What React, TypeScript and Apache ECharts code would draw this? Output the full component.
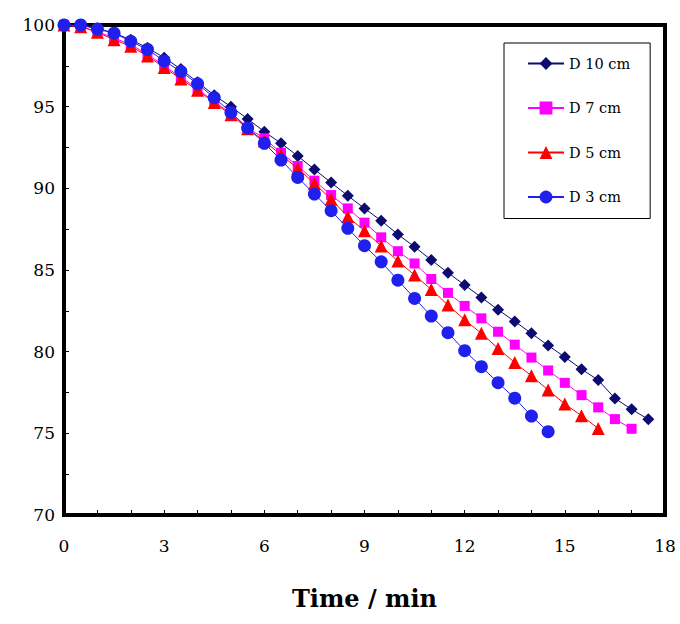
import React, { useEffect, useRef } from "react";
import * as echarts from "echarts";

const seriesNames = ["D 10 cm", "D 7 cm", "D 5 cm", "D 3 cm"];

const d10 = [100, 100, 99.8, 99.5, 99.1, 98.6, 98.0, 97.3, 96.5, 95.7, 95.0, 94.25, 93.47, 92.76, 91.98, 91.16, 90.35, 89.55, 88.77, 88.02, 87.18, 86.42, 85.61, 84.83, 84.08, 83.32, 82.57, 81.85, 81.12, 80.38, 79.67, 78.93, 78.26, 77.14, 76.47, 75.86];
const d7 = [100, 99.9, 99.6, 99.2, 98.8, 98.2, 97.5, 96.8, 96.1, 95.3, 94.6, 93.7, 93.06, 92.18, 91.37, 90.47, 89.59, 88.77, 87.9, 87.0, 86.15, 85.4, 84.45, 83.6, 82.8, 82.04, 81.22, 80.43, 79.64, 78.85, 78.09, 77.34, 76.59, 75.87, 75.28];
const d5 = [100, 99.9, 99.55, 99.1, 98.7, 98.1, 97.4, 96.7, 96.0, 95.25, 94.5, 93.65, 92.9, 92.05, 91.22, 90.3, 89.33, 88.26, 87.4, 86.47, 85.55, 84.69, 83.81, 82.85, 81.95, 81.12, 80.2, 79.33, 78.52, 77.65, 76.8, 76.08, 75.3];
const d3 = [100, 100, 99.75, 99.5, 99.0, 98.5, 97.8, 97.15, 96.4, 95.55, 94.65, 93.7, 92.76, 91.73, 90.67, 89.65, 88.63, 87.55, 86.49, 85.5, 84.38, 83.26, 82.18, 81.16, 80.06, 79.08, 78.1, 77.15, 76.06, 75.1];

const timeStep = 0.5; // sampling interval of the measurements (min)

const xTicks = [0, 3, 6, 9, 12, 15, 18];
const yTicks = [70, 75, 80, 85, 90, 95, 100];

const colors = ["#0b0b72", "#ff00ff", "#ff0000", "#2020ee"];
const symbols = ["diamond", "rect", "triangle", "circle"];
const symbolSizes = [12, 10, 13, 13];

const toPairs = (vals: number[]) => vals.map((v, i) => [i * timeStep, v]);

export default function App() {
  const ref = useRef<HTMLDivElement>(null);
  useEffect(() => {
    document.body.style.margin = "0";
    if (!ref.current) return;
    const chart = echarts.init(ref.current, null, { renderer: "svg" });
    const allData = [d10, d7, d5, d3];
    const font = "DejaVu Serif";
    chart.setOption({
      animation: false,
      backgroundColor: "#ffffff",
      grid: {
        left: 64,
        right: 15,
        top: 25,
        bottom: 109,
        show: true,
        borderColor: "#000",
        borderWidth: 4,
        backgroundColor: "transparent",
      },
      legend: {
        orient: "vertical",
        left: 504,
        top: 43,
        data: seriesNames,
        itemWidth: 36,
        itemHeight: 16,
        itemGap: 29.5,
        padding: [13, 20, 14, 23],
        borderColor: "#000",
        borderWidth: 1,
        backgroundColor: "#fff",
        textStyle: { fontFamily: font, fontSize: 14.5, color: "#000" },
      },
      xAxis: {
        type: "value",
        min: xTicks[0],
        max: xTicks[xTicks.length - 1],
        interval: 3,
        name: "Time / min",
        nameLocation: "middle",
        nameGap: 71,
        nameTextStyle: {
          fontFamily: font,
          fontWeight: "bold",
          fontSize: 24,
          color: "#000",
        },
        axisLine: { show: false },
        axisTick: { show: true, inside: true, length: 5, lineStyle: { color: "#000", width: 1 } },
        minorTick: { show: true, splitNumber: 3, length: 5, lineStyle: { color: "#000", width: 1 } },
        splitLine: { show: false },
        axisLabel: { fontFamily: font, fontSize: 17, color: "#000", margin: 22 },
      },
      yAxis: {
        type: "value",
        min: yTicks[0],
        max: yTicks[yTicks.length - 1],
        interval: 5,
        axisLine: { show: false },
        axisTick: { show: true, inside: true, length: 5, lineStyle: { color: "#000", width: 1 } },
        minorTick: { show: true, splitNumber: 2, length: 5, lineStyle: { color: "#000", width: 1 } },
        splitLine: { show: false },
        axisLabel: { fontFamily: font, fontSize: 17, color: "#000", margin: 9 },
      },
      series: seriesNames.map((name, i) => ({
        name,
        type: "line",
        data: toPairs(allData[i]),
        symbol: symbols[i],
        symbolSize: symbolSizes[i],
        showAllSymbol: true,
        itemStyle: { color: colors[i] },
        lineStyle: { color: colors[i], width: 1 },
        z: 2 + i,
      })),
    });
    return () => chart.dispose();
  }, []);
  return <div ref={ref} style={{ width: 680, height: 624 }} />;
}
